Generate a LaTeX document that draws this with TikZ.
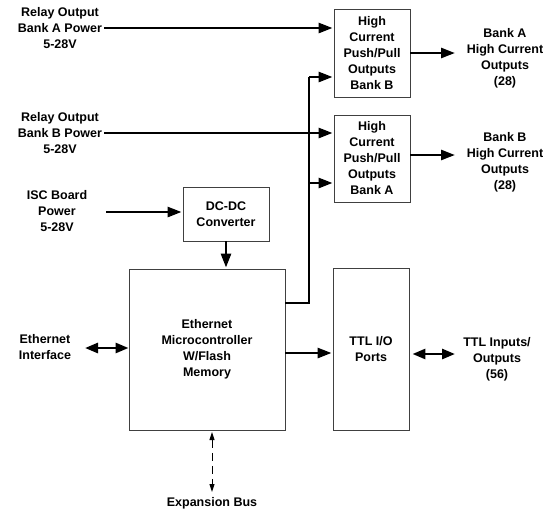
\documentclass[tikz,border=0pt]{standalone}
\usepackage{fontspec}
\setmainfont{Liberation Sans}
\usetikzlibrary{arrows.meta}
\begin{document}
\begin{tikzpicture}[x=1pt,y=-1pt,
  box/.style={draw=black!75,line width=0.9pt,inner sep=0pt,align=center},
  lbl/.style={align=center,inner sep=2pt},
  conn/.style={line width=2.7pt,-{Triangle[length=14pt,width=10pt]},shorten >=1pt},
  bus/.style={line width=2.7pt},
  dconn/.style={line width=2.7pt,{Triangle[length=13pt,width=10pt]}-{Triangle[length=13pt,width=10pt]}},
  dashconn/.style={line width=1pt,dash pattern=on 8pt off 5pt,{Triangle[length=8pt,width=5pt]}-{Triangle[length=8pt,width=5pt]}},
  every node/.style={font=\fontsize{12.5}{16}\selectfont\bfseries}]
\useasboundingbox (0,0) rectangle (555,512);
% boxes
\node[box,minimum width=76pt,minimum height=88pt] (hcb) at (372,53) {High\\Current\\Push/Pull\\Outputs\\Bank B};
\node[box,minimum width=76pt,minimum height=87pt] (hca) at (372,158.5) {High\\Current\\Push/Pull\\Outputs\\Bank A};
\node[box,minimum width=86pt,minimum height=54pt] (dcdc) at (226,214) {DC-DC\\Converter};
\node[box,minimum width=156pt,minimum height=161pt] (mc) at (207,349.5) {Ethernet\\Microcontroller\\W/Flash\\Memory};
\node[box,minimum width=76pt,minimum height=162pt] (ttl) at (371,349) {TTL I/O\\Ports};
% labels
\node[lbl] (relA) at (60,28) {Relay Output\\Bank A Power\\5-28V};
\node[lbl] (relB) at (60,133) {Relay Output\\Bank B Power\\5-28V};
\node[lbl] (isc) at (57,211) {ISC Board\\Power\\5-28V};
\node[lbl] (eth) at (45,347) {Ethernet\\Interface};
\node[lbl] (exp) at (212,503) {Expansion Bus};
\node[lbl] (outA) at (505,58) {Bank A\\High Current\\Outputs\\(28)};
\node[lbl] (outB) at (505,162) {Bank B\\High Current\\Outputs\\(28)};
\node[lbl] (ttlo) at (497,359) {TTL Inputs/\\Outputs\\(56)};
% coordinates
\coordinate (iscS) at (106,212);
\coordinate (ethE) at (85,348);
\coordinate (busB) at (309,303);
\coordinate (busT) at (309,77);
\coordinate (busA) at (309,183);
\coordinate (oA) at (456,53);
\coordinate (oB) at (456,155);
\coordinate (tE) at (455,354);
\coordinate (expT) at (212,432);
\coordinate (expB) at (212,492);
% connectors
\draw[conn] (relA.east) -- (relA.east -| hcb.west);
\draw[conn] (relB.east) -- (relB.east -| hca.west);
\draw[conn] (iscS) -- (iscS -| dcdc.west);
\draw[conn] (dcdc.south) -- (dcdc.south |- mc.north);
\draw[bus] (mc.east |- busB) -- (busB) -- (busT);
\draw[conn] (busT) -- (busT -| hcb.west);
\draw[conn] (busA) -- (busA -| hca.west);
\draw[conn] (hcb.east |- oA) -- (oA);
\draw[conn] (hca.east |- oB) -- (oB);
\draw[conn] (mc.east |- 0,353) -- (ttl.west |- 0,353);
\draw[dconn] (ethE) -- (ethE -| mc.west);
\draw[dconn] (ttl.east |- tE) ++(3,0) -- (tE);
\draw[dashconn] (expT) -- (expB);
\end{tikzpicture}
\end{document}
